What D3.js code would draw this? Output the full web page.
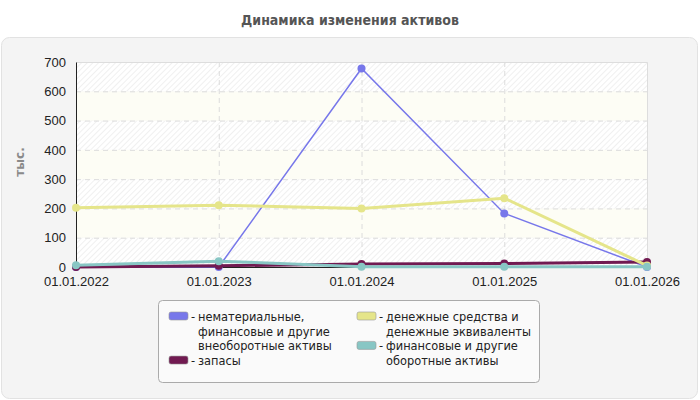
<!DOCTYPE html>
<html>
<head>
<meta charset="utf-8">
<script src="https://cdn.jsdelivr.net/npm/d3@7"></script>
<style>
  body { margin: 0; background: #fff; font-family: "Liberation Sans", Arial, sans-serif; }
  .axis text { font-size: 13px; fill: #222; font-family: "Liberation Sans", Arial, sans-serif; }
</style>
</head>
<body>
<svg id="chart" width="700" height="400"></svg>
<script>
// dates on the x axis
const dates = ['01.01.2022', '01.01.2023', '01.01.2024', '01.01.2025', '01.01.2026'];
const yTicks = [0, 100, 200, 300, 400, 500, 600, 700];

// series values (тыс.)
const nonCurrent = [0, 0, 678, 183, 0];
const stocks = [0, 4, 10, 12, 17];
const cash = [202, 211, 200, 235, 5];
const currentFin = [6, 20, 1, 1, 1];

const seriesNames = [
    ['нематериальные,', 'финансовые и другие', 'внеоборотные активы'],
    ['запасы'],
    ['денежные средства и', 'денежные эквиваленты'],
    ['финансовые и другие', 'оборотные активы']
];
const seriesColors = ['#7777ea', '#711a51', '#e5e58a', '#88c6c4'];
const seriesWidths = [1.5, 3, 3, 3];
const seriesValues = [nonCurrent, stocks, cash, currentFin];

const svg = d3.select('#chart');
const margin = {top: 62, right: 53, bottom: 133, left: 76};
const width = 700 - margin.left - margin.right;
const height = 400 - margin.top - margin.bottom;

// title
svg.append('text')
    .attr('x', 350).attr('y', 25)
    .attr('text-anchor', 'middle')
    .style('font-family', '"DejaVu Sans Condensed", "DejaVu Sans", sans-serif')
    .style('font-size', '14px').style('font-weight', 'bold').style('fill', '#555')
    .text('Динамика изменения активов');

// panel
svg.append('rect')
    .attr('x', 1.5).attr('y', 37.5).attr('width', 696).attr('height', 361).attr('rx', 8)
    .attr('fill', '#f4f4f4').attr('stroke', '#e2e2e2');

// hatch pattern
const defs = svg.append('defs');
const pat = defs.append('pattern')
    .attr('id', 'hatch').attr('patternUnits', 'userSpaceOnUse')
    .attr('width', 4).attr('height', 4)
    .attr('patternTransform', 'rotate(45)');
pat.append('rect').attr('width', 4).attr('height', 4).attr('fill', '#ffffff');
pat.append('line').attr('x1', 0).attr('y1', 0).attr('x2', 0).attr('y2', 4)
    .attr('stroke', '#ececec').attr('stroke-width', 1.5);

const x = d3.scalePoint().domain(dates).range([0, width]);
const y = d3.scaleLinear().domain([0, 700]).range([height, 0]);

const g = svg.append('g').attr('transform', 'translate(' + margin.left + ',' + margin.top + ')');

// alternating bands
g.selectAll('.band')
    .data(yTicks.slice(0, -1))
    .enter().append('rect')
    .attr('x', 0).attr('width', width)
    .attr('y', d => y(d + 100)).attr('height', d => y(d) - y(d + 100))
    .attr('fill', (d, i) => i % 2 === 0 ? 'url(#hatch)' : '#fdfdf5');

// grid
g.selectAll('.hgrid')
    .data(yTicks.slice(1, -1))
    .enter().append('line')
    .attr('x1', 0).attr('x2', width)
    .attr('y1', d => y(d) + 0.5).attr('y2', d => y(d) + 0.5)
    .attr('stroke', '#dcdcdc').attr('stroke-dasharray', '5,4');
g.selectAll('.vgrid')
    .data(dates.slice(1, -1))
    .enter().append('line')
    .attr('x1', d => x(d) + 0.5).attr('x2', d => x(d) + 0.5)
    .attr('y1', 0).attr('y2', height)
    .attr('stroke', '#dcdcdc').attr('stroke-dasharray', '5,4');

// plot border top/right
g.append('path')
    .attr('d', 'M0,0.5H' + (width + 0.5) + 'V' + height)
    .attr('fill', 'none').attr('stroke', '#dddddd');

// axes
g.append('g').attr('class', 'axis')
    .call(d3.axisLeft(y).tickValues(yTicks).tickSize(0).tickPadding(10))
    .call(a => a.select('.domain').attr('stroke', '#222'));
g.append('g').attr('class', 'axis')
    .attr('transform', 'translate(0,' + height + ')')
    .call(d3.axisBottom(x).tickSize(3).tickPadding(7))
    .call(a => a.select('.domain').attr('stroke', '#222'))
    .call(a => a.selectAll('.tick line').attr('stroke', '#222'));

// y label
svg.append('text')
    .attr('transform', 'translate(24,162) rotate(-90)')
    .attr('text-anchor', 'middle')
    .style('font-family', '"DejaVu Sans", sans-serif')
    .style('font-size', '12px').style('font-weight', 'bold').style('fill', '#8a8a8a')
    .text('тыс.');

// lines
const line = d3.line().x((d, i) => x(dates[i])).y(d => y(d));
seriesValues.forEach((vals, s) => {
    g.append('path')
        .datum(vals)
        .attr('fill', 'none')
        .attr('stroke', seriesColors[s])
        .attr('stroke-width', seriesWidths[s])
        .attr('d', line);
    g.selectAll('.pt' + s)
        .data(vals)
        .enter().append('circle')
        .attr('cx', (d, i) => x(dates[i]))
        .attr('cy', d => y(d))
        .attr('r', 4)
        .attr('fill', seriesColors[s]);
});

// legend
const lg = svg.append('g');
lg.append('rect')
    .attr('x', 158.5).attr('y', 300.5).attr('width', 381).attr('height', 82).attr('rx', 4)
    .attr('fill', '#fafafa').attr('stroke', '#aaaaaa');

const columns = [[0, 1], [2, 3]];
const colX = [169, 357];
columns.forEach((items, c) => {
    let lineY = 321;
    items.forEach(s => {
        lg.append('rect')
            .attr('x', colX[c]).attr('y', lineY - 9).attr('width', 19).attr('height', 8).attr('rx', 2)
            .attr('fill', seriesColors[s]).attr('stroke', '#999').attr('stroke-width', 0.6);
        lg.append('text')
            .attr('x', colX[c] + 22).attr('y', lineY)
            .style('font-family', '"DejaVu Sans", sans-serif')
            .style('font-size', '11.4px').style('fill', '#222')
            .text('-');
        seriesNames[s].forEach(txt => {
            lg.append('text')
                .attr('x', colX[c] + 29).attr('y', lineY)
                .style('font-family', '"DejaVu Sans", sans-serif')
                .style('font-size', '11.4px').style('fill', '#222')
                .text(txt);
            lineY += 14.7;
        });
    });
});
</script>
</body>
</html>
